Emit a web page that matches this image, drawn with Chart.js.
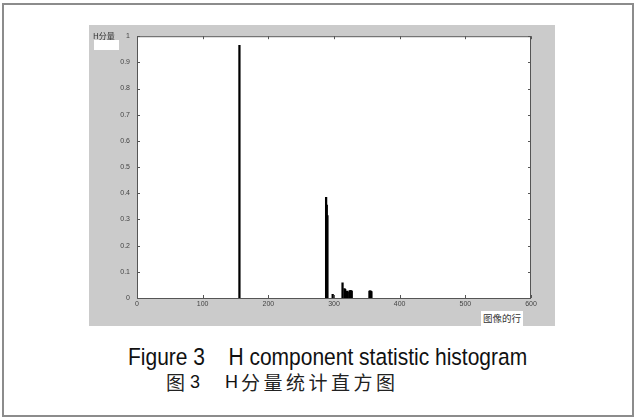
<!DOCTYPE html>
<html>
<head>
<meta charset="utf-8">
<script src="https://cdn.jsdelivr.net/npm/chart.js@4.4.0/dist/chart.umd.min.js"></script>
<style>
  body { margin: 0; background: #fff; width: 635px; height: 417px; position: relative; overflow: hidden; }
  #marco { position: absolute; left: 2px; top: 3px; width: 628px; height: 410px; border: 2px solid #8c8c8c; }
  #panel { position: absolute; left: 89px; top: 25px; width: 466px; height: 301px; background: #cbcbcb; }
  #ylab { position: absolute; left: 93px; top: 31px; font: 8px "Noto Sans CJK SC", sans-serif; color: #333; line-height: 9px; }
  #ycaja { position: absolute; left: 94px; top: 40px; width: 25px; height: 10px; background: #fff; }
  #xlab { position: absolute; left: 481px; top: 311px; width: 42px; height: 15px; background: #fff;
          font: 9.5px "Noto Sans CJK SC", sans-serif; color: #333; line-height: 15px; text-align: center; }
  .cap { position: absolute; color: #111; white-space: pre; }
  #cap1 { left: 128px; top: 345px; font: 21px/21px "Liberation Sans", Arial, sans-serif; transform: scaleY(1.1); transform-origin: 0 0; }
  .lat { top: 373px; font: 18px/18px "Liberation Sans", Arial, sans-serif; }
  .cjk { top: 372px; font: 19px/19px "Noto Sans CJK SC", sans-serif; color: #222; }
</style>
</head>
<body>
<div id="marco"></div>
<div id="panel"><canvas id="grafica" width="466" height="301"></canvas></div>
<div id="ylab">H分量</div>
<div id="ycaja"></div>
<div id="xlab">图像的行</div>
<div class="cap" id="cap1">Figure 3    H component statistic histogram</div>
<div class="cap cjk" style="left:166px">图</div>
<div class="cap lat" style="left:190px">3</div>
<div class="cap lat" style="left:225px">H</div>
<div class="cap cjk" style="left:241px; letter-spacing:3.5px">分量统计直方图</div>
<script>
// datos del histograma (bins con valor distinto de cero)
const bins    = [156, 288, 289, 290, 298, 313, 316, 317, 319, 320, 321, 324, 325, 326, 327, 354, 355, 356, 357];
const valores = [0.965, 0.385, 0.355, 0.315, 0.014, 0.058, 0.036, 0.033, 0.024, 0.026, 0.024, 0.028, 0.027, 0.028, 0.026, 0.026, 0.027, 0.026, 0.025];
const ticksX  = [0, 100, 200, 300, 400, 500, 600];
const ticksY  = [0, 0.1, 0.2, 0.3, 0.4, 0.5, 0.6, 0.7, 0.8, 0.9, 1];
const etiquetasY = ["0", "0.1", "0.2", "0.3", "0.4", "0.5", "0.6", "0.7", "0.8", "0.9", "1"];

const $grafica = document.querySelector("#grafica");

// fondo blanco, caja y ticks hacia adentro (estilo matlab)
const cajaMatlab = {
  id: 'cajaMatlab',
  beforeDatasetsDraw(chart) {
    const a = chart.chartArea, ctx = chart.ctx;
    ctx.save();
    ctx.fillStyle = '#fff';
    ctx.fillRect(a.left, a.top, a.right - a.left, a.bottom - a.top);
    ctx.restore();
  },
  afterDraw(chart) {
    const a = chart.chartArea, ctx = chart.ctx;
    const sx = chart.scales.x, sy = chart.scales.y;
    ctx.save();
    ctx.strokeStyle = '#555';
    ctx.lineWidth = 1;
    ctx.strokeRect(a.left + 0.5, a.top + 0.5, a.right - a.left - 1, a.bottom - a.top);
    ctx.beginPath();
    ticksX.forEach(v => {
      const px = Math.round(sx.getPixelForValue(v)) + 0.5;
      ctx.moveTo(px, a.bottom); ctx.lineTo(px, a.bottom - 3);
      ctx.moveTo(px, a.top); ctx.lineTo(px, a.top + 3);
    });
    ticksY.forEach(v => {
      const py = Math.round(sy.getPixelForValue(v)) + 0.5;
      ctx.moveTo(a.left, py); ctx.lineTo(a.left + 3, py);
      ctx.moveTo(a.right, py); ctx.lineTo(a.right - 3, py);
    });
    ctx.stroke();
    ctx.restore();
  }
};

new Chart($grafica, {
  type: 'bar',
  data: {
    datasets: [{
      data: bins.map((b, i) => ({ x: b, y: valores[i] })),
      backgroundColor: '#000',
      barThickness: 1.6,
    }]
  },
  options: {
    responsive: false,
    animation: false,
    devicePixelRatio: 1,
    layout: { padding: { left: 0, top: 8, right: 24, bottom: 0 } },
    plugins: { legend: { display: false }, tooltip: { enabled: false } },
    scales: {
      x: {
        type: 'linear', min: 0, max: 600, offset: false,
        afterBuildTicks: s => { s.ticks = ticksX.map(v => ({ value: v })); },
        afterFit: s => { s.height = 28; },
        grid: { display: false, drawTicks: false },
        border: { display: false },
        ticks: { padding: 2, autoSkip: false, color: '#444', font: { family: 'Liberation Sans', size: 7 }, maxRotation: 0 }
      },
      y: {
        min: 0, max: 1,
        afterBuildTicks: s => { s.ticks = ticksY.map(v => ({ value: v })); },
        afterFit: s => { s.width = 48; },
        grid: { display: false, drawTicks: false },
        border: { display: false },
        ticks: { padding: 7, autoSkip: false, color: '#444', font: { family: 'Liberation Sans', size: 7 },
                 callback: (v, i) => etiquetasY[i] }
      }
    }
  },
  plugins: [cajaMatlab]
});
</script>
</body>
</html>
